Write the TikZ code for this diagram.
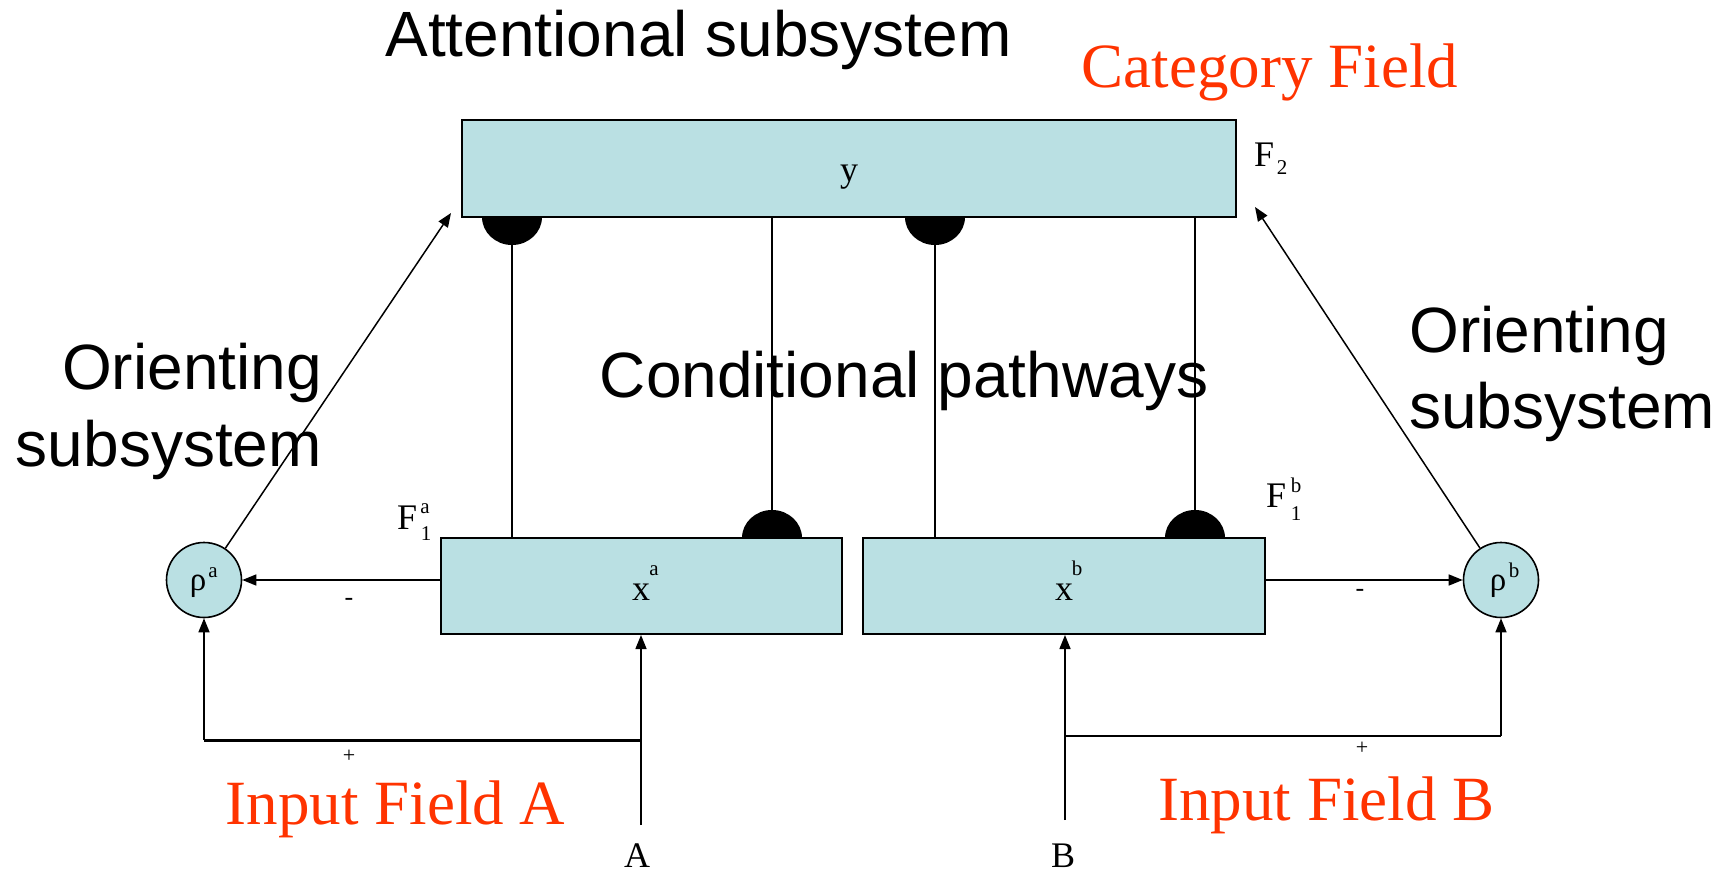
\documentclass[tikz,border=0pt]{standalone}
\usepackage{fontspec}
\setmainfont{Liberation Serif}
\newfontfamily\arialf{Liberation Sans}
\usetikzlibrary{arrows.meta}
\definecolor{boxfill}{RGB}{186,224,227}
\definecolor{fieldred}{RGB}{255,51,0}
\newcommand\myfs[1]{\fontsize{#1}{#1}\selectfont}
\begin{document}
\begin{tikzpicture}[x=1pt,y=-1pt,
  fieldbox/.style={draw, line width=2pt, fill=boxfill, inner sep=0pt},
  unit/.style={draw, line width=1.6pt, fill=boxfill, circle, minimum size=75pt, inner sep=0pt},
  conn/.style={line width=1.5pt},
  arr/.style={line width=1.5pt, -{Triangle[length=14pt,width=11pt]}},
  big/.style={font=\arialf\myfs{64}, inner sep=0pt},
  fieldlbl/.style={font=\myfs{63}, text=fieldred, inner sep=0pt, anchor=base},
  lbl/.style={font=\myfs{36}, inner sep=0pt, anchor=base},
  sup/.style={font=\myfs{21}, inner sep=0pt, anchor=base},
]
\useasboundingbox (0,0) rectangle (1724,872);

% boxes
\node[fieldbox, minimum width=774pt, minimum height=97pt] (F2) at (849,168.5) {};
\node[fieldbox, minimum width=401pt, minimum height=96pt] (xa) at (641.5,586) {};
\node[fieldbox, minimum width=402pt, minimum height=96pt] (xb) at (1064,586) {};
\node[unit] (ra) at (204,580) {};
\node[unit] (rb) at (1501,580) {};

% conditional pathways
\coordinate (s1) at (512,217);
\coordinate (s2) at (935,217);
\coordinate (s3) at (772,538);
\coordinate (s4) at (1195,538);
\draw[conn] (s1) -- (s1 |- xa.north);
\draw[conn, line width=2pt] (s3 |- F2.south) -- (s3);
\draw[conn] (s2) -- (s2 |- xb.north);
\draw[conn, line width=2pt] (s4 |- F2.south) -- (s4);
\fill (s1) ++(-30pt,0) arc[start angle=180, end angle=360, x radius=30pt, y radius=28pt] -- cycle;
\fill (s2) ++(-30pt,0) arc[start angle=180, end angle=360, x radius=30pt, y radius=28pt] -- cycle;
\fill (s3) ++(-30pt,0) arc[start angle=180, end angle=0, x radius=30pt, y radius=28pt] -- cycle;
\fill (s4) ++(-30pt,0) arc[start angle=180, end angle=0, x radius=30pt, y radius=28pt] -- cycle;

% orienting connections
\coordinate (ta) at (451,213);
\coordinate (tb) at (1255,207);
\draw[arr] (ra) -- (ta);
\draw[arr] (rb) -- (tb);
\draw[arr] (xa.west |- ra.east) -- (ra.east);
\draw[arr] (xb.east |- rb.west) -- (rb.west);

% inputs
\coordinate (inA) at (641,825);
\coordinate (ja) at (641,740);
\draw[arr] (inA) -- (inA |- xa.south);
\draw[line width=3pt] (ja) -- (ja -| ra.south);
\draw[arr] (ja -| ra.south) -- (ra.south);
\coordinate (inB) at (1065,820);
\coordinate (jb) at (1065,736);
\draw[arr] (inB) -- (inB |- xb.south);
\draw[line width=2.5pt] (jb) -- (jb -| rb.south);
\draw[arr] (jb -| rb.south) -- (rb.south);

% big texts
\node[big, anchor=base] (att) at (698.5,57) {Attentional subsystem};
\node[big, anchor=base] (cond) at (904,397) {Conditional pathways};
\node[big, anchor=base east] (orl1) at (322,389) {Orienting};
\node[big, anchor=base east] (orl2) at (322,466) {subsystem};
\node[big, anchor=base west] (orr1) at (1409,352) {Orienting};
\node[big, anchor=base west] (orr2) at (1409,428) {subsystem};
\node[fieldlbl] (catf) at (1270,88) {Category Field};
\node[fieldlbl] (inpa) at (395.5,824) {Input Field A};
\node[fieldlbl] (inpb) at (1326.5,820) {Input Field B};

% small labels
\node[lbl] (ylab) at (849,182) {y};
\node[lbl, anchor=base west] (f2F) at (1254,167) {F};
\node[sup] (f2s) at (1282,175) {2};
\node[lbl, anchor=base west] (f1aF) at (397,529) {F};
\node[sup] (f1a1) at (426,540) {1};
\node[sup] (f1aa) at (425,513) {a};
\node[lbl, anchor=base west] (f1bF) at (1266,507) {F};
\node[sup] (f1b1) at (1296,520) {1};
\node[sup] (f1bb) at (1296,492) {b};
\node[lbl] (xal) at (641,600) {x};
\node[sup] (xas) at (654,575) {a};
\node[lbl] (xbl) at (1064,600) {x};
\node[sup] (xbs) at (1077,575) {b};
\node[font=\myfs{33}, inner sep=0pt, anchor=base] (rhoa) at (198,590) {ρ};
\node[sup] (rhoas) at (213,577) {a};
\node[font=\myfs{33}, inner sep=0pt, anchor=base] (rhob) at (1498,590) {ρ};
\node[sup] (rhobs) at (1514,577) {b};
\node[font=\myfs{26}, inner sep=0pt] (ma) at (349,602) {-};
\node[font=\myfs{26}, inner sep=0pt] (mb) at (1360,593) {-};
\node[font=\myfs{22}, inner sep=0pt] (pa) at (349,756) {+};
\node[font=\myfs{22}, inner sep=0pt] (pb) at (1362,748) {+};
\node[lbl] (alab) at (637,867) {A};
\node[lbl] (blab) at (1063,867) {B};
\end{tikzpicture}
\end{document}
